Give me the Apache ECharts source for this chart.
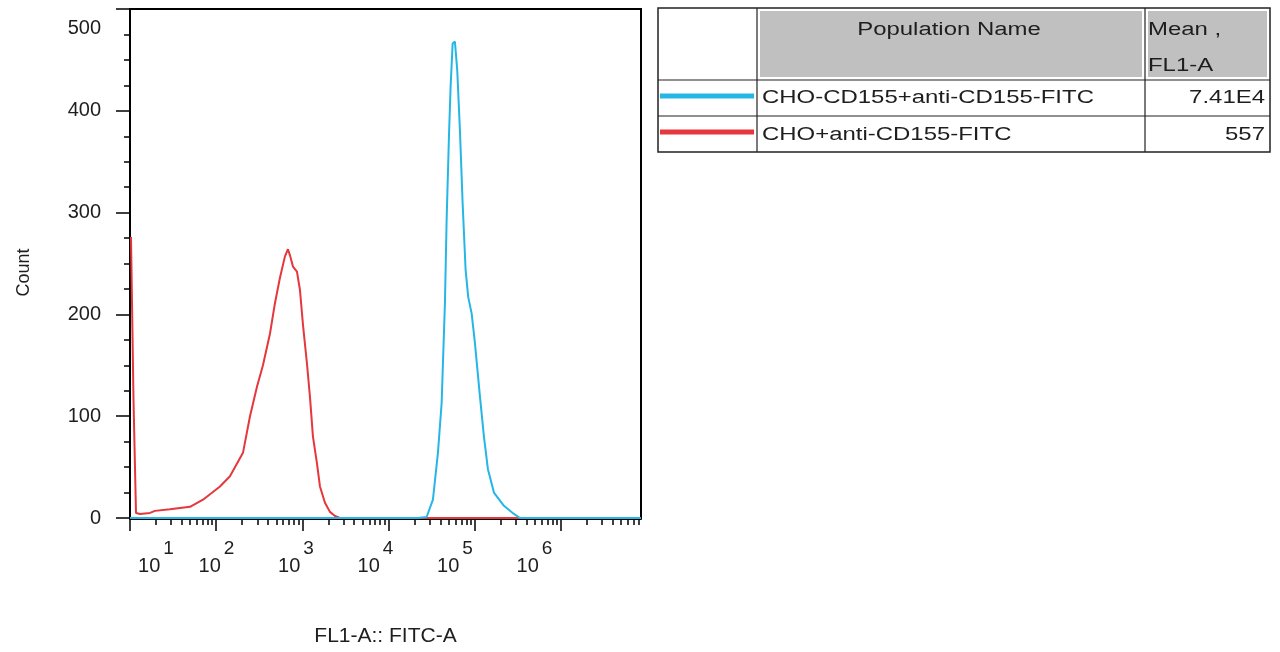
<!DOCTYPE html>
<html>
<head>
<meta charset="utf-8">
<script src="https://cdn.jsdelivr.net/npm/echarts@6/dist/echarts.min.js"></script>
<style>
html,body{margin:0;padding:0;background:#fff;}
#c{width:1280px;height:652px;}
</style>
</head>
<body>
<div id="c"></div>
<script>
// ---------------- data ----------------
const seriesNames = ['CHO-CD155+anti-CD155-FITC', 'CHO+anti-CD155-FITC'];
const meanValues = ['7.41E4', '557'];
const headerName = 'Population Name';
const headerMean = ['Mean ,', 'FL1-A'];
const xTickValues = [10, 100, 1000, 10000, 100000, 1000000];
const minorMultipliers = [2, 3, 4, 5, 6, 7, 8, 9];
const yTickValues = [0, 100, 200, 300, 400, 500];
const xTitle = 'FL1-A:: FITC-A';
const yTitle = 'Count';

// CHO-CD155 + anti-CD155-FITC (blue)
const blueX = [10, 21930, 27670, 32740, 37420, 41320, 45110, 47210, 50200, 52520, 55420, 58910, 62660, 67330, 72400, 78350, 84060, 92100, 100500, 114800, 127900, 142300, 167100, 218300, 285100, 334400, 8500000];
const blueY = [0, 0, 1, 18, 64, 113, 211, 293, 374, 424, 466, 468, 440, 381, 309, 244, 217, 201, 172, 120, 80, 48, 25, 12, 4, 0, 0];

// CHO + anti-CD155-FITC (red)
const redX = [10.27, 10.83, 10.98, 11.43, 11.74, 13.06, 17.06, 19.5, 29.1, 49.7, 70.3, 110.7, 144.5, 204.6, 246.8, 297.4, 349, 420.7, 480.8, 549.5, 628, 680.4, 718, 778, 865.5, 938, 1016, 1130, 1225, 1327, 1476, 1600, 1829, 2090, 2388, 2729, 8500000];
const redY = [276, 276, 116, 116, 5, 4, 5, 7, 8.5, 11, 18, 31, 41, 64, 100, 129, 150, 181, 211, 236, 257, 264, 258, 247, 242, 224, 190, 152, 119, 80, 54, 31, 15, 6, 2, 0, 0];

// ---------------- chart ----------------
const FONT = '"Liberation Sans", Arial, sans-serif';
const BLUE = '#25b6e6';
const RED = '#e5373c';
const TXT = '#1e1e1e';
const xMin = 10, xMax = 8.5e6;
const labelMin = 8.166, labelMax = 2.186e7;

const minorVals = [];
xTickValues.forEach(d => minorMultipliers.forEach(m => { if (d * m < xMax) minorVals.push(d * m); }));

const chart = echarts.init(document.getElementById('c'), null, {renderer: 'canvas'});

const tableText = (x, y, text, align) => ({
  type: 'text', x: x, y: y, scaleX: 1.33,
  style: {text: text, x: 0, y: 0, align: align, verticalAlign: 'middle',
          font: '18px "Liberation Sans", Arial, sans-serif', fill: TXT}
});
const hLine = (x1, x2, y, w) => ({type: 'line', shape: {x1: x1, y1: y, x2: x2, y2: y}, style: {stroke: '#222', lineWidth: w || 1.2}});
const vLine = (x, y1, y2, w) => ({type: 'line', shape: {x1: x, y1: y1, x2: x, y2: y2}, style: {stroke: '#222', lineWidth: w || 1.2}});

const option = {
  animation: false,
  backgroundColor: '#fff',
  grid: {left: 130, top: 9, width: 511, height: 509, show: true, borderColor: '#000', borderWidth: 2, backgroundColor: 'transparent'},
  xAxis: [
    {
      type: 'log', logBase: 10, min: xMin, max: xMax, position: 'bottom', offset: 1,
      axisLine: {show: true, onZero: false, lineStyle: {color: '#000', width: 2}},
      axisTick: {show: true, customValues: xTickValues, length: 12, lineStyle: {color: '#000', width: 1.5}},
      axisLabel: {show: false},
      splitLine: {show: false}
    },
    {
      type: 'log', logBase: 10, min: xMin, max: xMax, position: 'bottom', offset: 1,
      axisLine: {show: false},
      axisTick: {show: true, customValues: minorVals, length: 7, lineStyle: {color: '#000', width: 1.5}},
      axisLabel: {show: false},
      splitLine: {show: false}
    },
    {
      type: 'log', logBase: 10, min: labelMin, max: labelMax, position: 'bottom', offset: 0,
      axisLine: {show: false},
      axisTick: {show: false},
      splitLine: {show: false},
      axisLabel: {
        customValues: xTickValues, margin: 36,
        formatter: function (v) {
          const e = Math.round(Math.log10(v));
          return (e === 1 ? '{b1|10}' : '{b|10}') + '{s|' + e + '}';
        },
        rich: {
          b: {fontSize: 20, lineHeight: 22, verticalAlign: 'bottom', fontFamily: FONT, color: TXT},
          b1: {fontSize: 20, lineHeight: 22, verticalAlign: 'bottom', fontFamily: FONT, color: TXT, padding: [0, 0, 0, 38]},
          s: {fontSize: 19, lineHeight: 21, verticalAlign: 'bottom', fontFamily: FONT, color: TXT, padding: [0, 0, 17.5, 3]}
        }
      },
      name: xTitle, nameLocation: 'middle', nameGap: 108,
      nameTextStyle: {fontSize: 21, fontFamily: FONT, color: TXT}
    }
  ],
  yAxis: {
    type: 'value', min: 0, max: 500, interval: 100,
    axisLine: {show: true, lineStyle: {color: '#000', width: 2}},
    axisTick: {show: true, length: 14, lineStyle: {color: '#000', width: 1.5}},
    minorTick: {show: true, splitNumber: 4, length: 6, lineStyle: {color: '#000', width: 1.5}},
    splitLine: {show: false},
    minorSplitLine: {show: false},
    axisLabel: {
      margin: 29, fontSize: 20, color: TXT, fontFamily: FONT,
      formatter: function (v) { return v === yTickValues[yTickValues.length - 1] ? '{t|' + v + '}' : String(v); },
      rich: {t: {fontSize: 20, color: TXT, fontFamily: FONT, padding: [38, 0, 0, 0]}}
    },
    name: yTitle, nameLocation: 'middle', nameGap: 97,
    nameTextStyle: {fontSize: 18, fontFamily: FONT, color: TXT, padding: [0, 18, 0, 0]}
  },
  series: [
    {
      name: seriesNames[1], type: 'line', xAxisIndex: 0, yAxisIndex: 0,
      data: redX.map((x, i) => [x, redY[i]]),
      symbol: 'none', lineStyle: {color: RED, width: 2}, itemStyle: {color: RED}, z: 3
    },
    {
      name: seriesNames[0], type: 'line', xAxisIndex: 0, yAxisIndex: 0,
      data: blueX.map((x, i) => [x, blueY[i]]),
      symbol: 'none', lineStyle: {color: BLUE, width: 2}, itemStyle: {color: BLUE}, z: 4
    }
  ],
  graphic: [
    {type: 'rect', shape: {x: 658, y: 8, width: 612, height: 144}, style: {fill: '#fff', stroke: '#222', lineWidth: 1.5}},
    {type: 'rect', shape: {x: 760, y: 11, width: 382, height: 66}, style: {fill: '#c0c0c0'}},
    {type: 'rect', shape: {x: 1148, y: 11, width: 119, height: 66}, style: {fill: '#c0c0c0'}},
    vLine(757, 8, 152), vLine(1145, 8, 152),
    hLine(658, 1270, 80), hLine(658, 1270, 116),
    {type: 'line', shape: {x1: 660, y1: 96, x2: 754, y2: 96}, style: {stroke: BLUE, lineWidth: 5}},
    {type: 'line', shape: {x1: 660, y1: 132, x2: 754, y2: 132}, style: {stroke: RED, lineWidth: 5}},
    tableText(949, 30, headerName, 'center'),
    tableText(1148, 30, headerMean[0], 'left'),
    tableText(1148, 66, headerMean[1], 'left'),
    tableText(762, 98, seriesNames[0], 'left'),
    tableText(762, 135, seriesNames[1], 'left'),
    tableText(1265, 98, meanValues[0], 'right'),
    tableText(1265, 135, meanValues[1], 'right')
  ]
};
chart.setOption(option);
</script>
</body>
</html>
